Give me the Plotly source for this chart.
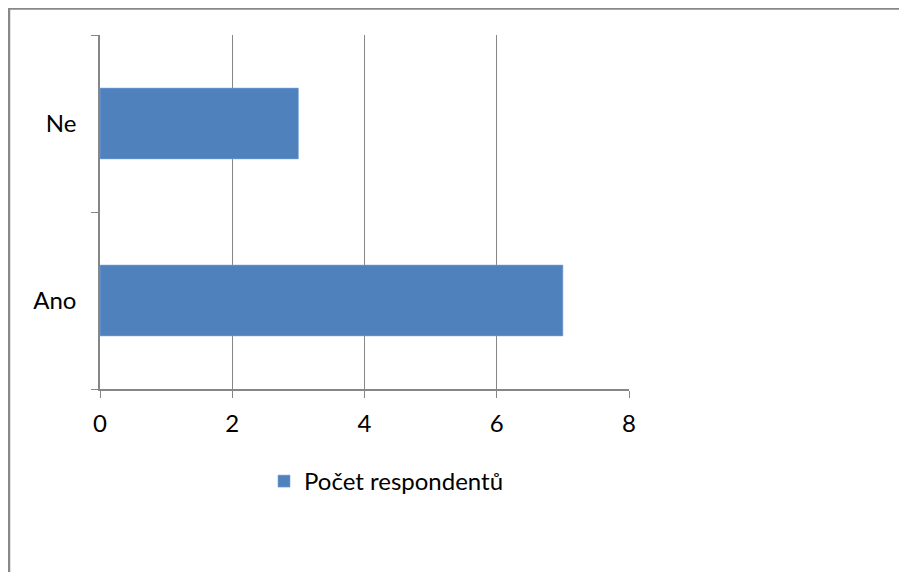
import plotly.graph_objects as go

categories = ["Ano", "Ne"]
values = [7, 3]
series_name = "Počet respondentů"
x_ticks = [0, 2, 4, 6, 8]

W, H = 899, 564
L, R, T, B = 92, 278, 27, 183
pw, ph = W - L - R, H - T - B

def px_x(px):
    return (px - L) / pw

def px_y(py):
    return (H - B - py) / ph

fig = go.Figure()
fig.add_trace(go.Bar(
    y=categories, x=values, orientation="h", name=series_name,
    marker=dict(color="#4F81BD", line=dict(color="#7EA6D8", width=0.6)),
    width=0.4, showlegend=True,
))

axis_col = "#868686"
fig.update_layout(
    width=W, height=H,
    margin=dict(l=L, r=R, t=T, b=B),
    paper_bgcolor="white", plot_bgcolor="white",
    font=dict(family="Lato, Open Sans, sans-serif", size=24, color="#000000"),
    xaxis=dict(range=[0, 8], tickvals=x_ticks, showgrid=True, gridcolor=axis_col, gridwidth=1.3,
               showline=True, linecolor=axis_col, linewidth=1.5, ticks="outside", ticklen=7,
               tickcolor=axis_col, zeroline=False, tickfont=dict(size=24), ticklabelstandoff=5),
    yaxis=dict(type="category", categoryorder="array", categoryarray=categories,
               tickson="boundaries", ticks="outside", ticklen=7, tickcolor=axis_col,
               showline=True, linecolor=axis_col, linewidth=1.5, showgrid=False,
               tickfont=dict(size=24), ticklabelstandoff=17),
    legend=dict(orientation="h", x=px_x(256), y=px_y(451), xanchor="left", yanchor="top",
                font=dict(size=24), itemwidth=30, traceorder="normal"),
    shapes=[
        dict(type="line", xref="paper", yref="paper",
             x0=px_x(1), x1=px_x(1), y0=px_y(0), y1=px_y(H),
             line=dict(color="#888888", width=2.5), layer="above"),
        dict(type="line", xref="paper", yref="paper",
             x0=px_x(0), x1=px_x(W), y0=px_y(0.5), y1=px_y(0.5),
             line=dict(color="#888888", width=2.5), layer="above"),
    ],
)
fig.write_html("out.html")
